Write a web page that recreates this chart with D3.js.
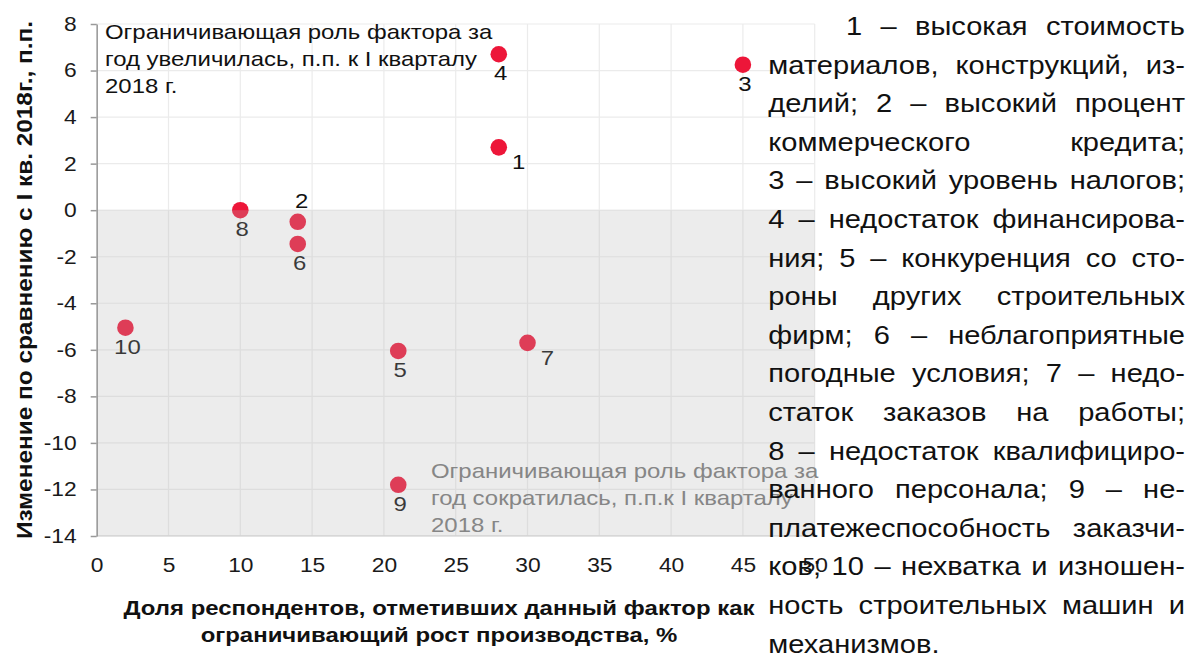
<!DOCTYPE html>
<html>
<head>
<meta charset="utf-8">
<script src="https://cdn.jsdelivr.net/npm/d3@7"></script>
<style>
  body { margin: 0; background: #fff; }
  svg { display: block; font-family: "Liberation Sans", Arial, sans-serif; }
</style>
</head>
<body>
<svg id="chart" width="1189" height="657"></svg>
<script>
// factor numbers, share of respondents (%), change vs Q1 2018 (p.p.)
const factors = [1, 2, 3, 4, 5, 6, 7, 8, 9, 10];
const share   = [28, 14, 45, 28, 21, 14, 30, 10, 21, 2];
const change  = [2.7, -0.5, 6.25, 6.7, -6.05, -1.45, -5.7, 0, -11.8, -5.05];

const xTicks = [0, 5, 10, 15, 20, 25, 30, 35, 40, 45, 50];
const yTicks = [-14, -12, -10, -8, -6, -4, -2, 0, 2, 4, 6, 8];

// where the number sits next to its point
const labelSide = ["right", "above", "below", "below", "below", "below", "right", "below", "below", "below"];

const noteUp   = ["Ограничивающая роль фактора за", "год увеличилась, п.п. к I кварталу", "2018 г."];
const noteDown = ["Ограничивающая роль фактора за", "год сократилась, п.п.к I кварталу", "2018 г."];

const yTitle = "Изменение по сравнению с I кв. 2018г., п.п.";
const xTitle = ["Доля респондентов, отметивших данный фактор как", "ограничивающий рост производства, %"];

const legendLines = [
  "1 – высокая стоимость",
  "материалов, конструкций, из-",
  "делий; 2 – высокий процент",
  "коммерческого кредита;",
  "3 – высокий уровень налогов;",
  "4 – недостаток финансирова-",
  "ния; 5 – конкуренция со сто-",
  "роны других строительных",
  "фирм; 6 – неблагоприятные",
  "погодные условия; 7 – недо-",
  "статок заказов на работы;",
  "8 – недостаток квалифициро-",
  "ванного персонала; 9 – не-",
  "платежеспособность заказчи-",
  "ков; 10 – нехватка и изношен-",
  "ность строительных машин и",
  "механизмов."
];

const svg = d3.select("#chart");
const k = 1.14; // the source text is a bit wide

function stretch(sel) {
  sel.each(function () {
    const w = this.getComputedTextLength();
    d3.select(this).attr("textLength", w * k).attr("lengthAdjust", "spacingAndGlyphs");
  });
}

const x = d3.scaleLinear().domain([0, 50]).range([96.7, 814.7]);
const y = d3.scaleLinear().domain([-14, 8]).range([536, 24]);

// grid
const grid = svg.append("g");
grid.selectAll(".gx").data(xTicks).enter().append("line")
  .attr("x1", d => x(d)).attr("x2", d => x(d))
  .attr("y1", y(8)).attr("y2", y(-14))
  .attr("stroke", "#ebebeb").attr("stroke-width", 1.2);
grid.selectAll(".gy").data(yTicks).enter().append("line")
  .attr("x1", x(0)).attr("x2", x(50))
  .attr("y1", d => y(d)).attr("y2", d => y(d))
  .attr("stroke", "#ebebeb").attr("stroke-width", 1.2);

// bottom edge
svg.append("line")
  .attr("x1", x(0)).attr("x2", x(50)).attr("y1", y(-14)).attr("y2", y(-14))
  .attr("stroke", "#dcdcdc").attr("stroke-width", 1.5);

// points
const pts = factors.map((f, i) => ({ f: f, x: share[i], y: change[i], side: labelSide[i] }));

svg.append("g").selectAll("circle").data(pts).enter().append("circle")
  .attr("cx", d => x(d.x)).attr("cy", d => y(d.y)).attr("r", 8.3)
  .attr("fill", "#ed1639");

const lbl = svg.append("g").selectAll("text").data(pts).enter().append("text")
  .attr("x", d => x(d.x) + (d.side === "right" ? 20 : d.side === "above" ? 4 : 2))
  .attr("y", d => y(d.y) + (d.side === "right" ? 22 : d.side === "above" ? -14 : 26))
  .attr("text-anchor", "middle")
  .attr("font-size", 21)
  .attr("fill", "#111")
  .text(d => d.f);
stretch(lbl);

// top note
const up = svg.append("g").selectAll("text").data(noteUp).enter().append("text")
  .attr("x", 105).attr("y", (d, i) => 39 + i * 27)
  .attr("font-size", 21).attr("fill", "#111")
  .text(d => d);
stretch(up);

// shaded "decreased" half, laid over the marks
svg.append("rect")
  .attr("x", x(0)).attr("y", y(0))
  .attr("width", x(50) - x(0)).attr("height", y(-14) - y(0))
  .attr("fill", "rgb(179,179,179)").attr("fill-opacity", 0.25);

const down = svg.append("g").selectAll("text").data(noteDown).enter().append("text")
  .attr("x", 431).attr("y", (d, i) => 478 + i * 27)
  .attr("font-size", 21).attr("fill", "#868686")
  .text(d => d);
stretch(down);

// axes
const yAxis = svg.append("g")
  .attr("transform", `translate(${x(0)},0)`)
  .call(d3.axisLeft(y).tickValues(yTicks).tickFormat(d => String(d))
    .tickSize(6).tickPadding(14).tickSizeOuter(0));
yAxis.select(".domain").attr("stroke", "#999").attr("stroke-width", 1.5);
yAxis.selectAll(".tick line").attr("stroke", "#999").attr("stroke-width", 1.5);
yAxis.selectAll(".tick text")
  .attr("font-size", 20).attr("font-family", "Liberation Sans, Arial, sans-serif").attr("fill", "#1a1a1a");
stretch(yAxis.selectAll(".tick text"));

const xAxis = svg.append("g")
  .attr("transform", `translate(0,${y(-14)})`)
  .call(d3.axisBottom(x).tickValues(xTicks).tickFormat(d => String(d)).tickSize(0).tickPadding(22));
xAxis.select(".domain").remove();
xAxis.selectAll(".tick text")
  .attr("font-size", 20).attr("font-family", "Liberation Sans, Arial, sans-serif").attr("fill", "#1a1a1a");
stretch(xAxis.selectAll(".tick text"));

// axis titles
svg.append("text")
  .attr("transform", "translate(32,280) rotate(-90)")
  .attr("text-anchor", "middle")
  .attr("font-size", 22.5).attr("font-weight", "bold").attr("fill", "#111")
  .attr("textLength", 518).attr("lengthAdjust", "spacingAndGlyphs")
  .text(yTitle);

const xt = svg.append("g").selectAll("text").data(xTitle).enter().append("text")
  .attr("x", 439).attr("y", (d, i) => 615 + i * 26.5)
  .attr("text-anchor", "middle")
  .attr("font-size", 21).attr("font-weight", "bold").attr("fill", "#111")
  .text(d => d);
stretch(xt);

// justified legend paragraph on the right
const left = 768.3, right = 1185, indentLeft = 846;
const leg = svg.append("g").attr("font-size", 25.5).attr("fill", "#111");
legendLines.forEach((line, i) => {
  const words = line.split(" ");
  const by = 35 + i * 38.6;
  const nodes = words.map(w => leg.append("text").attr("y", by).text(w));
  const widths = nodes.map(n => {
    const w = n.node().getComputedTextLength() * k;
    n.attr("textLength", w).attr("lengthAdjust", "spacingAndGlyphs");
    return w;
  });
  const x0 = i === 0 ? indentLeft : left;
  const total = d3.sum(widths);
  const last = i === legendLines.length - 1;
  const gap = last || words.length < 2 ? 7 : (right - x0 - total) / (words.length - 1);
  let cx = x0;
  nodes.forEach((n, j) => {
    n.attr("x", cx);
    cx += widths[j] + gap;
  });
});
</script>
</body>
</html>
